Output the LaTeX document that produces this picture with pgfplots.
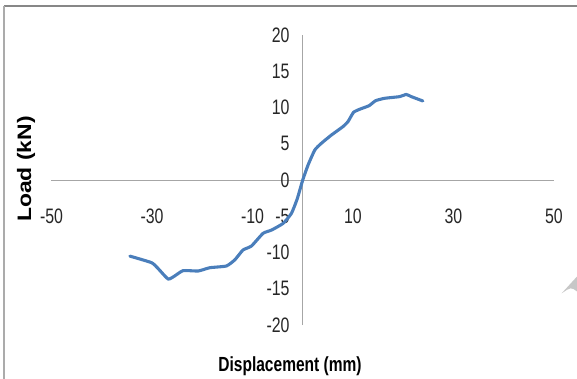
\documentclass[border=0pt]{standalone}
\usepackage{fontspec}
\setmainfont{Liberation Sans}[FakeStretch=0.76]
\newfontfamily\loadfont{Liberation Sans}
\usepackage{graphicx}
\usepackage{pgfplots}
\pgfplotsset{compat=1.18}
\definecolor{lineblue}{HTML}{4A7EBB}
\definecolor{axgray}{HTML}{A6A6A6}
\begin{document}
\begin{tikzpicture}[x=1bp,y=1bp]
\begin{axis}[
  at={(51.5bp,54bp)}, anchor=south west,
  scale only axis, width=502.5bp, height=290bp,
  xmin=-50, xmax=50, ymin=-20, ymax=20,
  axis lines=middle,
  axis line style={axgray, line width=0.9pt, -},
  xtick={-50,-30,-10,10,30,50},
  ytick={-20,-15,-10,-5,0,5,10,15,20},
  hide obscured x ticks=false, hide obscured y ticks=false,
  major tick length=0pt,
  /pgf/number format/assume math mode=true,
  tick label style={font=\fontsize{21}{25}\selectfont, text=black!85},
  xticklabel style={anchor=center, inner sep=0pt, yshift=-36bp},
  yticklabel style={anchor=east, inner sep=0pt, xshift=-13bp},
  clip=false,
]
\addplot[lineblue, line width=3.1pt, smooth, tension=0.3, line join=round, line cap=round] coordinates {
(-34.4,-10.5) (-30.1,-11.4) (-28.8,-12.2) (-26.8,-13.66) (-25.5,-13.24)
(-23.8,-12.5) (-20.8,-12.55) (-18.5,-12.1) (-15.2,-11.86) (-13.5,-11.0)
(-11.9,-9.66) (-10.2,-9.1) (-7.9,-7.36) (-6.2,-6.9) (-3.9,-5.98)
(-2.25,-4.6) (-1.1,-2.6) (0,0) (1.06,2.07) (2.4,4.14) (3.7,5.06)
(5.7,6.2) (8.0,7.36) (9.0,8.05) (10.1,9.33) (11.3,9.75) (13.2,10.25)
(14.5,10.94) (16.3,11.27) (19.3,11.5) (20.6,11.8) (21.6,11.5) (23.9,10.9)
};
\end{axis}
% frame decoration
\draw[color=black!47, line width=2pt] (4bp,379bp-6.3bp) -- (577bp,379bp-6.3bp);
\draw[color=black!33, line width=1.5pt] (4bp,379bp-6.3bp) -- (4bp,0bp);
\fill[black!22] (561.7bp,379bp-293.3bp) -- (577bp,379bp-276.5bp) -- (577bp,379bp-291.5bp) .. controls (571bp,379bp-287bp) .. (561.7bp,379bp-293.3bp) -- cycle;
% axis titles
\node at (26bp,379bp-169bp) {\scalebox{0.85}[1]{\rotatebox{90}{\loadfont\bfseries\fontsize{23}{27}\selectfont Load (kN)}}};
\node[inner sep=0pt] at (290bp,379bp-366bp) {\bfseries\fontsize{20.5}{24}\selectfont Displacement (mm)};
\pgfresetboundingbox
\path[use as bounding box] (0,0) rectangle (577bp,379bp);
\end{tikzpicture}
\end{document}
